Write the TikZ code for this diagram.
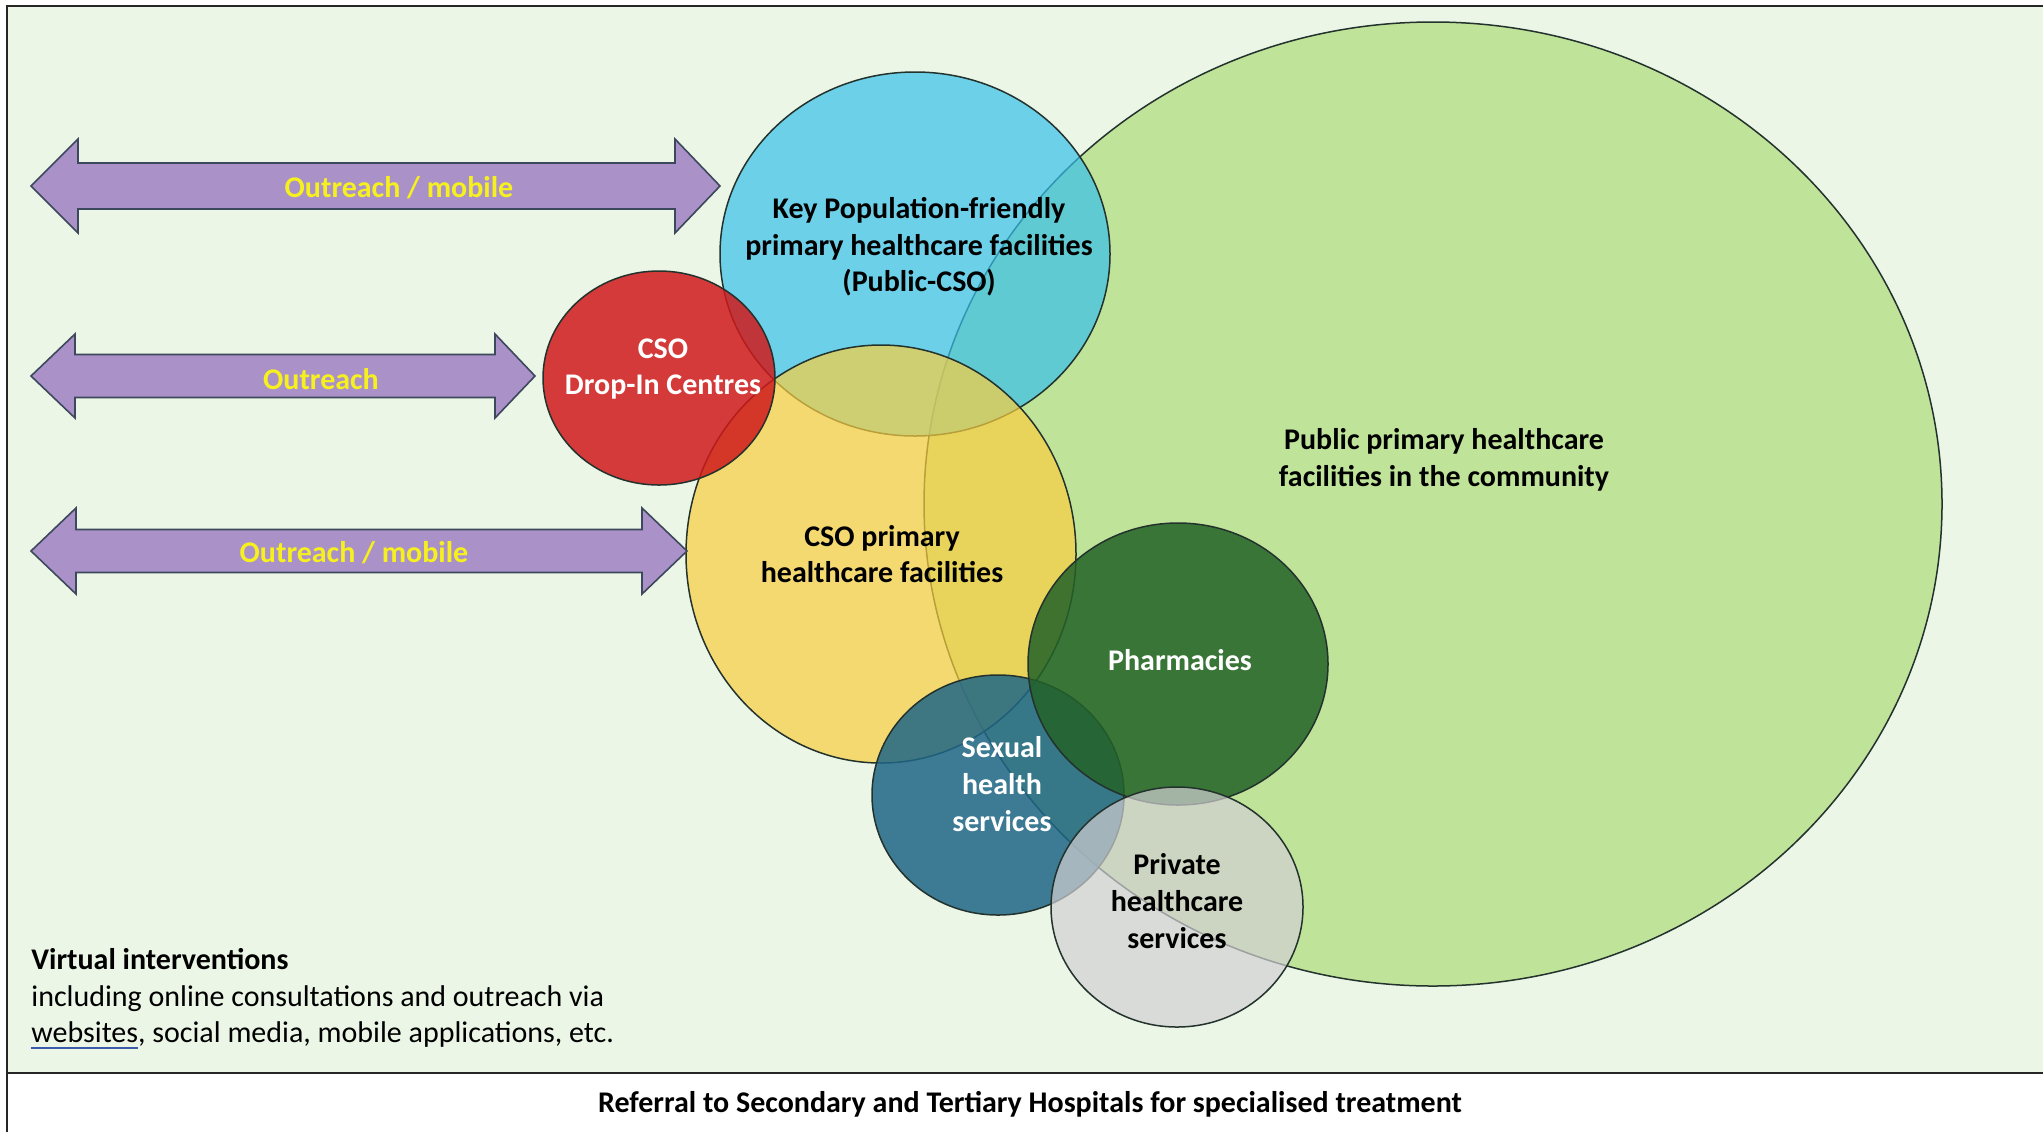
\documentclass[tikz,border=0pt]{standalone}
\usepackage{fontspec}
\setmainfont{Carlito}
\usetikzlibrary{shapes.geometric}
\definecolor{bgG}{RGB}{235,246,231}
\definecolor{bigG}{RGB}{174,220,122}
\definecolor{kpB}{RGB}{55,192,235}
\definecolor{csoY}{RGB}{249,206,64}
\definecolor{dicR}{RGB}{207,26,27}
\definecolor{phG}{RGB}{35,98,40}
\definecolor{shT}{RGB}{31,102,134}
\definecolor{prG}{RGB}{210,208,210}
\definecolor{arrP}{RGB}{170,146,200}
\definecolor{arrL}{RGB}{60,72,92}
\definecolor{lblY}{RGB}{245,240,30}
\definecolor{edgeC}{RGB}{35,50,45}
\definecolor{ulblue}{RGB}{60,90,170}
\newcommand\mybluul[1]{\setbox0\hbox{#1}\rlap{\color{ulblue}\rule[-3.2pt]{\wd0}{1.1pt}}\box0}
\tikzset{
  venn/.style={draw=edgeC, line width=0.75pt},
  arrowshape/.style={fill=arrP, draw=arrL, line width=0.8pt, line join=miter},
  lbl/.style={font=\fontsize{15}{18.3}\selectfont\bfseries, align=center, inner sep=0pt},
  arrlbl/.style={lbl, text=lblY},
  frame/.style={draw=black!85, line width=1pt}
}
\begin{document}
\begin{tikzpicture}[x=0.5pt,y=-0.5pt]
\useasboundingbox (0,0) rectangle (2043,1131);
\clip (0,0) rectangle (2043,1131);
% background
\fill[white] (0,0) rectangle (2043,1131);
\fill[bgG] (7,6) rectangle (2050,1073);
% circles
\path[venn, fill=bigG, fill opacity=0.7] (1433,504) ellipse [x radius=254.5pt, y radius=241pt];
\path[venn, fill=kpB, fill opacity=0.7] (915,254) ellipse [x radius=97.5pt, y radius=91pt];
\path[venn, fill=csoY, fill opacity=0.7] (881,554) ellipse [x radius=97.5pt, y radius=104.5pt];
\path[venn, fill=dicR, fill opacity=0.85] (659,378) ellipse [x radius=58pt, y radius=53.5pt];
\path[venn, fill=shT, fill opacity=0.85] (998,795) ellipse [x radius=63pt, y radius=60pt];
\path[venn, fill=phG, fill opacity=0.85] (1178,664) ellipse [x radius=75pt, y radius=70.5pt];
\path[venn, fill=prG, fill opacity=0.7] (1177,907) ellipse [x radius=63pt, y radius=60pt];
% arrows
\path[arrowshape] (31,186) -- (78,139) -- (78,163) -- (675,163) -- (675,139) -- (720,186)
  -- (675,233) -- (675,209) -- (78,209) -- (78,233) -- cycle;
\path[arrowshape] (31,376) -- (75,334) -- (75,354.5) -- (495,354.5) -- (495,334) -- (535,376)
  -- (495,418) -- (495,397.5) -- (75,397.5) -- (75,418) -- cycle;
\path[arrowshape] (31,551) -- (76,508) -- (76,529.5) -- (642,529.5) -- (642,508) -- (687,551)
  -- (642,594) -- (642,572.5) -- (76,572.5) -- (76,594) -- cycle;
% frame
\draw[frame] (2050,6) -- (7,6) -- (7,1140);
\draw[frame] (7,1073) -- (2050,1073);
% labels
\node[arrlbl] (a1) at (399,188) {Outreach / mobile};
\node[arrlbl] (a2) at (321,379) {Outreach};
\node[arrlbl] (a3) at (354,553) {Outreach / mobile};
\node[lbl] (kp) at (919,247) {Key Population-friendly\\primary healthcare facilities\\(Public-CSO)};
\node[lbl, text=white] (dic) at (663,369) {CSO\\Drop-In Centres};
\node[lbl] (csop) at (882,554) {CSO primary\\healthcare facilities};
\node[lbl] (pub) at (1444,460) {Public primary healthcare\\facilities in the community};
\node[lbl, text=white] (ph) at (1180,660) {Pharmacies};
\node[lbl, text=white] (sh) at (1002,784) {Sexual\\health\\services};
\node[lbl] (pr) at (1177,901) {Private\\healthcare\\services};
\node[anchor=west, align=left, inner sep=0pt, font=\fontsize{15}{18.3}\selectfont] (virt) at (31,999)
  {\textbf{Virtual interventions}\\including online consultations and outreach via\\\mybluul{websites}, social media, mobile applications, etc.};
\node[lbl] (ref) at (1030,1104) {Referral to Secondary and Tertiary Hospitals for specialised treatment};
\end{tikzpicture}
\end{document}
